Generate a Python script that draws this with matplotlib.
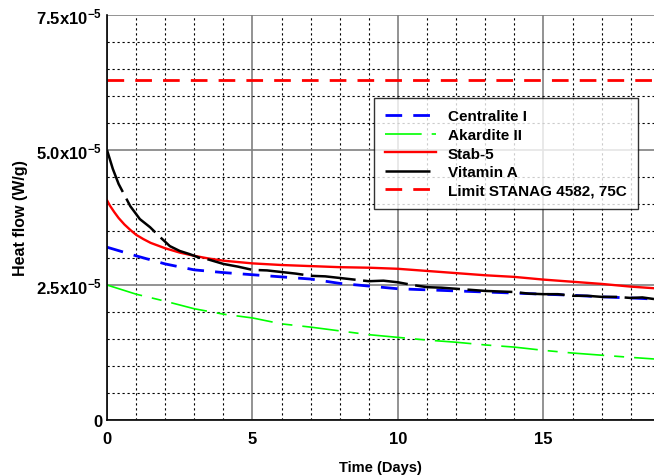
import numpy as np
import matplotlib
matplotlib.use("Agg")
from matplotlib import pyplot as plt
from matplotlib.ticker import MultipleLocator

plt.rcParams['font.family'] = ['Liberation Sans', 'DejaVu Sans']
plt.rcParams['font.weight'] = 'bold'
plt.rcParams['mathtext.fontset'] = 'custom'
plt.rcParams['mathtext.rm'] = 'Liberation Sans:bold'
plt.rcParams['mathtext.bf'] = 'Liberation Sans:bold'
plt.rcParams['mathtext.default'] = 'bf'

# time axis (days) and heat flow values (x1e-5 W/g)
days_c = [0, 1, 2, 3, 4, 5, 6, 7, 8, 9, 10, 11, 12, 13, 14, 15, 16, 17, 18, 18.8]
centralite = [3.20, 3.04, 2.89, 2.78, 2.73, 2.69, 2.65, 2.61, 2.53, 2.48, 2.43,
              2.41, 2.39, 2.37, 2.35, 2.33, 2.31, 2.28, 2.26, 2.24]

days_a = [0, 1, 2, 3, 4, 5, 6, 7, 8, 9, 10, 11, 12, 13, 14, 15, 16, 17, 18, 18.8]
akardite = [2.50, 2.33, 2.20, 2.06, 1.96, 1.89, 1.78, 1.72, 1.65, 1.58, 1.53,
            1.48, 1.44, 1.39, 1.35, 1.29, 1.24, 1.20, 1.16, 1.13]

days_s = [0, 0.1, 0.25, 0.4, 0.6, 0.8, 1, 1.25, 1.5, 1.75, 2, 2.5, 3, 3.5, 4,
          5, 6, 7, 8, 9, 10, 11, 12, 13, 14, 15, 16, 17, 18, 18.8]
stab5 = [4.07, 3.97, 3.85, 3.74, 3.62, 3.52, 3.43, 3.35, 3.28, 3.23, 3.18, 3.10,
         3.04, 2.99, 2.95, 2.90, 2.87, 2.85, 2.83, 2.82, 2.80, 2.76, 2.72, 2.68,
         2.65, 2.60, 2.56, 2.52, 2.47, 2.44]

days_v = [0, 0.2, 0.4, 0.8, 1.13, 1.48, 1.82, 2.16, 2.5, 2.85, 3.2, 3.5, 4, 4.5,
          5, 5.5, 6, 6.5, 7, 7.5, 8, 8.5, 9, 9.5, 10, 10.5, 11, 11.5, 12, 12.5,
          13, 13.5, 14, 14.5, 15, 15.5, 16, 16.5, 17, 17.5, 18, 18.4, 18.8]
vitamin_a = [5.00, 4.65, 4.37, 3.96, 3.72, 3.57, 3.39, 3.22, 3.13, 3.07, 3.00,
             2.97, 2.89, 2.84, 2.78, 2.77, 2.74, 2.71, 2.67, 2.66, 2.63, 2.60,
             2.57, 2.58, 2.55, 2.50, 2.46, 2.45, 2.43, 2.41, 2.39, 2.38, 2.37,
             2.34, 2.33, 2.33, 2.30, 2.30, 2.28, 2.28, 2.26, 2.27, 2.24]

limit = 6.3
scale = 1e-5
ytick_vals = [0, 2.5e-5, 5e-5, 7.5e-5]
ytick_labels = ['0', r'2.5x10$^{-5}$', r'5.0x10$^{-5}$', r'7.5x10$^{-5}$']

fig = plt.figure(figsize=(6.54, 4.77), dpi=100)
ax = fig.add_axes([0.1636, 0.1174, 0.8364, 0.8491])

ax.plot(days_c, np.array(centralite) * scale, color='#0000ff', lw=2,
        dashes=(6, 4), label='Centralite I')
ax.plot(days_a, np.array(akardite) * scale, color='#00ff00', lw=1.2,
        dashes=(22, 6, 6, 6), label='Akardite II')
ax.plot(days_s, np.array(stab5) * scale, color='#ff0000', lw=1.7,
        label='Stab-5')
ax.plot(days_v, np.array(vitamin_a) * scale, color='black', lw=1.8,
        dashes=(18, 3), label='Vitamin A')
ax.axhline(limit * scale, color='#ff0000', lw=2, dashes=(6, 4),
           label='Limit STANAG 4582, 75C')

ax.set_xlim(0, 18.8)
ax.set_ylim(0, 7.5e-5)
ax.xaxis.set_major_locator(MultipleLocator(5))
ax.xaxis.set_minor_locator(MultipleLocator(1))
ax.yaxis.set_minor_locator(MultipleLocator(0.5e-5))
ax.set_yticks(ytick_vals)
ax.set_yticklabels(ytick_labels)

ax.grid(which='major', color='#808080', lw=1.2, ls='-')
ax.grid(which='minor', color='black', lw=0.8, ls=(0, (2, 2.5)))
ax.set_axisbelow(True)
ax.tick_params(which='both', length=0, labelsize=12)
ax.tick_params(axis='x', pad=8)
for sp in ['top', 'right']:
    ax.spines[sp].set_visible(False)
ax.spines['left'].set_linewidth(1.2)
ax.spines['bottom'].set_linewidth(1.2)

ax.set_xlabel('Time (Days)', fontsize=10.5, fontweight='bold', labelpad=10)
ax.set_ylabel('Heat flow (W/g)', fontsize=11.5, fontweight='bold', labelpad=6)

leg = ax.legend(loc='upper left', bbox_to_anchor=(0.488, 0.795), fontsize=11,
                frameon=True, fancybox=False, handlelength=3.3,
                borderpad=0.75, labelspacing=0.3, handletextpad=0.8,
                borderaxespad=0)
leg.get_frame().set_edgecolor('black')
leg.get_frame().set_linewidth(1.0)

fig.savefig('out.png', dpi=100)
